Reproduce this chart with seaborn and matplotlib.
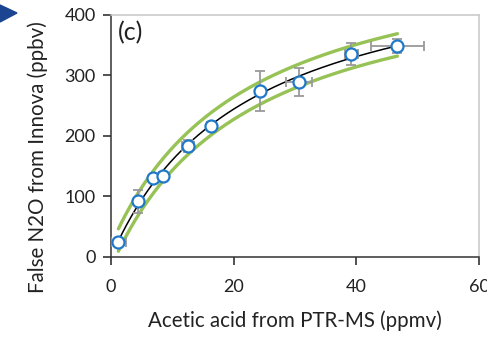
import numpy as np
import pandas as pd
import matplotlib
matplotlib.use("Agg")
import matplotlib.pyplot as plt
import seaborn as sns
from matplotlib.patches import Polygon

# Data
acetic_ppmv = [1.2, 4.4, 6.8, 8.4, 12.6, 16.3, 24.3, 30.7, 39.2, 46.7]
false_n2o_ppbv = [24, 92, 131, 133, 184, 216, 275, 289, 335, 349]
x_err = [1.2, 0.5, 0.5, 0.5, 1.0, 0.6, 0.5, 2.1, 1.1, 4.3]
y_err = [4, 19, 4, 4, 10, 4, 33, 23, 18, 12]
band_upper = 20
band_lower = 17
x_ticks = [0, 20, 40, 60]
y_ticks = [0, 100, 200, 300, 400]

sns.set_style("white")
plt.rcParams['font.family'] = ['Lato', 'DejaVu Sans']

df = pd.DataFrame({"x": acetic_ppmv, "y": false_n2o_ppbv})

# saturating (hyperbolic) least-squares fit y = a*x/(b+x)
xs = df["x"].to_numpy(float)
ys = df["y"].to_numpy(float)
best = None
for b in np.linspace(1, 100, 2000):
    g = xs / (b + xs)
    a = (g @ ys) / (g @ g)
    sse = np.sum((ys - a * g) ** 2)
    if best is None or sse < best[0]:
        best = (sse, a, b)
_, a_fit, b_fit = best

xf = np.linspace(xs.min(), xs.max(), 200)
yf = a_fit * xf / (b_fit + xf)
fit = pd.DataFrame({"x": xf, "fit": yf, "upper": yf + band_upper,
                    "lower": yf - band_lower})

fig = plt.figure(figsize=(4.87, 3.39), dpi=100)
ax = fig.add_axes([0.228, 0.242, 0.7556, 0.714])

green = "#97C255"
sns.lineplot(data=fit, x="x", y="upper", ax=ax, color=green, lw=2.4, zorder=2)
sns.lineplot(data=fit, x="x", y="lower", ax=ax, color=green, lw=2.4, zorder=2)
sns.lineplot(data=fit, x="x", y="fit", ax=ax, color="black", lw=1.1, zorder=3)
ax.errorbar(df["x"], df["y"], xerr=x_err, yerr=y_err, fmt="none",
            ecolor="#9a9a9a", elinewidth=1.3, capsize=3.5, capthick=1.3, zorder=4)
sns.scatterplot(data=df, x="x", y="y", ax=ax, s=75, color="white",
                edgecolor="#1F78C8", linewidth=1.6, zorder=5)

ax.set_xlim(0, 60)
ax.set_ylim(0, 400)
ax.set_xticks(x_ticks)
ax.set_yticks(y_ticks)
ax.tick_params(axis="both", labelsize=13, colors="#222222", direction="out",
               length=6, width=1.1, left=True, bottom=True)
ax.tick_params(axis="x", pad=10)
ax.tick_params(axis="y", pad=5)
for s in ["left", "bottom"]:
    ax.spines[s].set_color("#333333")
    ax.spines[s].set_linewidth(1.1)
for s in ["top", "right"]:
    ax.spines[s].set_color("#c8c8c8")
    ax.spines[s].set_linewidth(1.1)

ax.set_xlabel("Acetic acid from PTR-MS (ppmv)", fontsize=14.8, color="#222222", labelpad=11)
ax.set_ylabel("False N2O from Innova (ppbv)", fontsize=14.8, color="#222222")
ax.yaxis.set_label_coords(-0.17, 0.413)
ax.text(0.018, 0.975, "(c)", transform=ax.transAxes, fontsize=18, va="top",
        ha="left", color="#222222")

tri = Polygon([[0, 339 - 5], [0, 339 - 22], [17, 339 - 13]], closed=True,
              transform=None, color="#1B4590")
fig.patches.append(tri)

fig.savefig("out.png", dpi=100)
